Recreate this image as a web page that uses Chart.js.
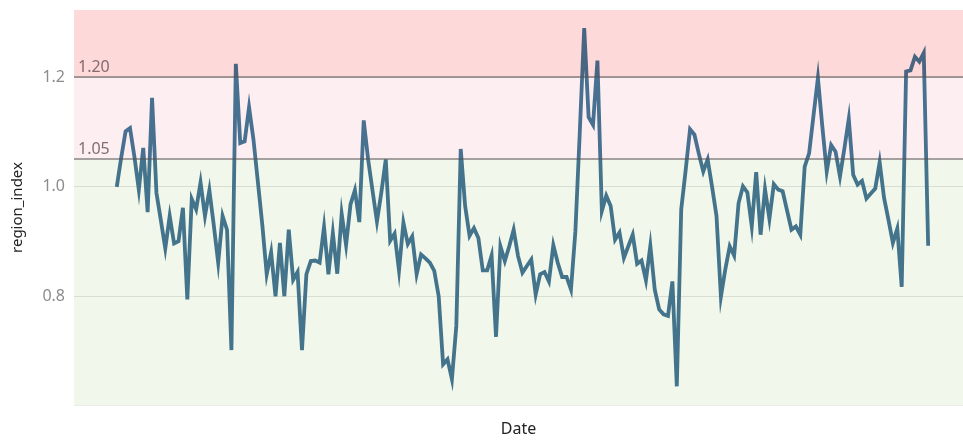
<!DOCTYPE html>
<html lang="en">
<head>
    <meta charset="UTF-8">
    <title>region_index</title>
    <script src="https://cdn.jsdelivr.net/npm/chart.js"></script>
    <style>
        html, body { margin: 0; padding: 0; background: #fff; }
        #wrap { width: 963px; height: 440px; }
    </style>
</head>
<body>
    <div id="wrap"><canvas id="regionChart"></canvas></div>

    <script>
        // weekly region_index values
        const regionIndex = [
            1.00, 1.053, 1.101, 1.107, 1.055, 0.995, 1.071, 0.954, 1.162, 0.989,
            0.939, 0.888, 0.947, 0.897, 0.901, 0.962, 0.795, 0.978, 0.959, 1.008,
            0.947, 0.994, 0.93, 0.862, 0.947, 0.922, 0.703, 1.224, 1.080, 1.083,
            1.145, 1.086, 1.009, 0.931, 0.841, 0.881, 0.801, 0.898, 0.801, 0.922,
            0.831, 0.845, 0.703, 0.841, 0.865, 0.866, 0.862, 0.927, 0.841, 0.916,
            0.842, 0.951, 0.894, 0.968, 0.994, 0.936, 1.121, 1.050, 0.993, 0.937,
            0.990, 1.050, 0.902, 0.915, 0.848, 0.935, 0.896, 0.910, 0.841, 0.877,
            0.870, 0.862, 0.847, 0.801, 0.677, 0.686, 0.650, 0.747, 1.069, 0.965,
            0.911, 0.925, 0.907, 0.848, 0.848, 0.875, 0.727, 0.892, 0.865, 0.892,
            0.922, 0.874, 0.844, 0.856, 0.868, 0.804, 0.841, 0.845, 0.828, 0.894,
            0.862, 0.836, 0.836, 0.813, 0.919, 1.100, 1.289, 1.127, 1.113, 1.230,
            0.956, 0.984, 0.965, 0.904, 0.917, 0.871, 0.892, 0.913, 0.860, 0.866,
            0.830, 0.893, 0.813, 0.777, 0.768, 0.765, 0.828, 0.637, 0.959, 1.030,
            1.105, 1.095, 1.060, 1.028, 1.050, 1.000, 0.947, 0.800, 0.850, 0.892,
            0.875, 0.970, 1.001, 0.990, 0.928, 1.027, 0.913, 0.996, 0.942, 1.005,
            0.995, 0.992, 0.957, 0.922, 0.928, 0.913, 1.037, 1.061, 1.130, 1.198,
            1.110, 1.028, 1.076, 1.064, 1.019, 1.070, 1.124, 1.022, 1.004, 1.011,
            0.979, 0.988, 0.997, 1.045, 0.980, 0.940, 0.898, 0.924, 0.818, 1.210,
            1.212, 1.237, 1.228, 1.244, 0.893
        ];
        const weeks = regionIndex.map((v, i) => i);

        const yTicks = [0.8, 1.0, 1.2];
        const thresholds = [1.05, 1.20];
        const thresholdLabels = ["1.05", "1.20"];
        const bandEdges = [0.603, 1.05, 1.20, 1.322];
        const bandColors = ["rgb(241,247,234)", "rgb(253,239,241)", "rgb(253,217,217)"];

        // coloured zones, multiplied over the line so it gets tinted like the original
        const zonesPlugin = {
            id: "zones",
            afterDatasetsDraw(chart) {
                const { ctx, chartArea, scales: { y } } = chart;
                ctx.save();
                ctx.globalCompositeOperation = "multiply";
                for (let i = 0; i < bandColors.length; i++) {
                    const top = y.getPixelForValue(bandEdges[i + 1]);
                    const bottom = y.getPixelForValue(bandEdges[i]);
                    ctx.fillStyle = bandColors[i];
                    ctx.fillRect(chartArea.left, top, chartArea.right - chartArea.left, bottom - top);
                }
                ctx.restore();

                ctx.save();
                ctx.strokeStyle = "rgba(80,80,80,0.5)";
                ctx.lineWidth = 2;
                ctx.font = "16px 'Noto Sans'";
                ctx.fillStyle = "rgba(110,85,90,0.85)";
                ctx.textBaseline = "alphabetic";
                thresholds.forEach((t, i) => {
                    const py = Math.round(y.getPixelForValue(t));
                    ctx.beginPath();
                    ctx.moveTo(chartArea.left, py);
                    ctx.lineTo(chartArea.right, py);
                    ctx.stroke();
                    ctx.fillText(thresholdLabels[i], chartArea.left + 4, py - 5);
                });
                ctx.restore();
            }
        };

        const ctx = document.getElementById("regionChart").getContext("2d");
        new Chart(ctx, {
            type: "line",
            data: {
                datasets: [{
                    label: "region_index",
                    data: weeks.map((w, i) => ({ x: w, y: regionIndex[i] })),
                    borderColor: "rgb(72,119,153)",
                    borderWidth: 3.8,
                    pointRadius: 0,
                    tension: 0,
                    fill: false
                }]
            },
            options: {
                responsive: true,
                maintainAspectRatio: false,
                animation: false,
                layout: { padding: { top: 10, right: 0, left: 0, bottom: 0 } },
                plugins: {
                    legend: { display: false },
                    tooltip: { enabled: false }
                },
                scales: {
                    x: {
                        type: "linear",
                        min: -9.7,
                        max: 191.9,
                        ticks: { display: false },
                        grid: { display: false },
                        border: { display: true, color: "#ececec", width: 1 },
                        title: {
                            display: true,
                            text: "Date",
                            color: "#222",
                            font: { family: "'Noto Sans'", size: 16 },
                            padding: { top: 0, bottom: 1 }
                        },
                        afterFit(scale) {
                            scale.height = 35;
                            scale.paddingLeft = 0;
                            scale.paddingRight = 0;
                        }
                    },
                    y: {
                        min: 0.603,
                        max: 1.322,
                        afterBuildTicks(scale) {
                            scale.ticks = yTicks.map(v => ({ value: v }));
                        },
                        ticks: {
                            color: "#8c8c8c",
                            padding: 9,
                            font: { family: "'Noto Sans'", size: 16 },
                            callback: v => v.toFixed(1)
                        },
                        grid: { color: "#e6e6e6", drawTicks: false },
                        border: { display: false },
                        title: {
                            display: true,
                            text: "region_index",
                            color: "#222",
                            font: { family: "'Noto Sans'", size: 15 },
                            padding: { top: 9, bottom: 0 }
                        },
                        afterFit(scale) {
                            scale.width = 74;
                            scale.paddingTop = 0;
                            scale.paddingBottom = 0;
                        }
                    }
                }
            },
            plugins: [zonesPlugin]
        });
    </script>
</body>
</html>
